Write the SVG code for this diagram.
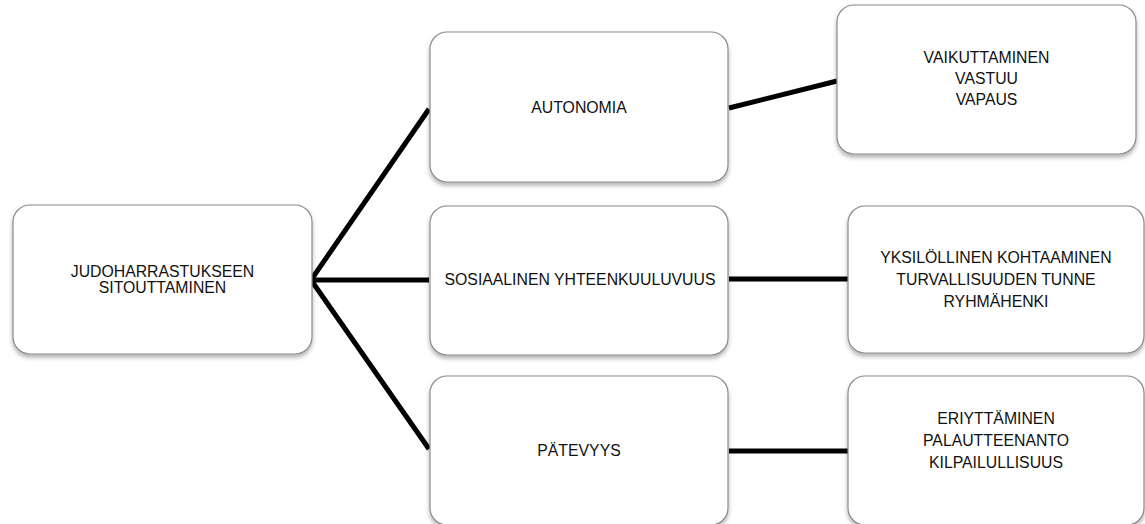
<svg xmlns="http://www.w3.org/2000/svg" width="1145" height="524" viewBox="0 0 1145 524">
<style>
.box{fill:#fff;stroke:#8a8a8a;stroke-width:1.2;filter:url(#sh)}
.t{font-family:"Liberation Sans",Arial,sans-serif;font-size:15.8px;fill:#111;text-anchor:middle}
.c{stroke:#000;stroke-width:5;fill:none;stroke-linecap:butt;stroke-linejoin:miter}
</style>
<defs>
<filter id="sh" x="-10%" y="-10%" width="120%" height="130%">
<feDropShadow dx="0" dy="3" stdDeviation="2" flood-color="#000" flood-opacity="0.3"/>
</filter>
</defs>
<rect width="1145" height="524" fill="#fff"/>
<g id="connectors">
<polyline class="c" points="429,109 311,280 429,449"/>
<line class="c" x1="311" y1="280" x2="429" y2="280"/>
<line class="c" x1="729" y1="108" x2="837" y2="81"/>
<line class="c" x1="729" y1="279" x2="848" y2="279"/>
<line class="c" x1="729" y1="451" x2="848" y2="451"/>
</g>
<g id="root">
<rect class="box" x="13" y="205" width="299" height="149" rx="17"/>
<text class="t" x="162.5" y="277">JUDOHARRASTUKSEEN</text>
<text class="t" x="162.5" y="293">SITOUTTAMINEN</text>
</g>
<g id="autonomia">
<rect class="box" x="430" y="32" width="298" height="150" rx="17"/>
<text class="t" x="579" y="113">AUTONOMIA</text>
</g>
<g id="sosiaalinen">
<rect class="box" x="430" y="206" width="298" height="149" rx="17"/>
<text class="t" x="580" y="285">SOSIAALINEN YHTEENKUULUVUUS</text>
</g>
<g id="patevyys">
<rect class="box" x="430" y="376" width="298" height="149" rx="17"/>
<text class="t" x="579" y="456">PÄTEVYYS</text>
</g>
<g id="vaikuttaminen">
<rect class="box" x="837" y="5" width="299" height="149" rx="17"/>
<text class="t" x="986.5" y="63">VAIKUTTAMINEN</text>
<text class="t" x="986.5" y="84">VASTUU</text>
<text class="t" x="986.5" y="105">VAPAUS</text>
</g>
<g id="yksilollinen">
<rect class="box" x="848" y="206" width="296" height="147" rx="17"/>
<text class="t" x="996" y="263">YKSILÖLLINEN KOHTAAMINEN</text>
<text class="t" x="996" y="285">TURVALLISUUDEN TUNNE</text>
<text class="t" x="996" y="307">RYHMÄHENKI</text>
</g>
<g id="eriyttaminen">
<rect class="box" x="848" y="376" width="296" height="149" rx="17"/>
<text class="t" x="996" y="424">ERIYTTÄMINEN</text>
<text class="t" x="996" y="446">PALAUTTEENANTO</text>
<text class="t" x="996" y="468">KILPAILULLISUUS</text>
</g>
</svg>
